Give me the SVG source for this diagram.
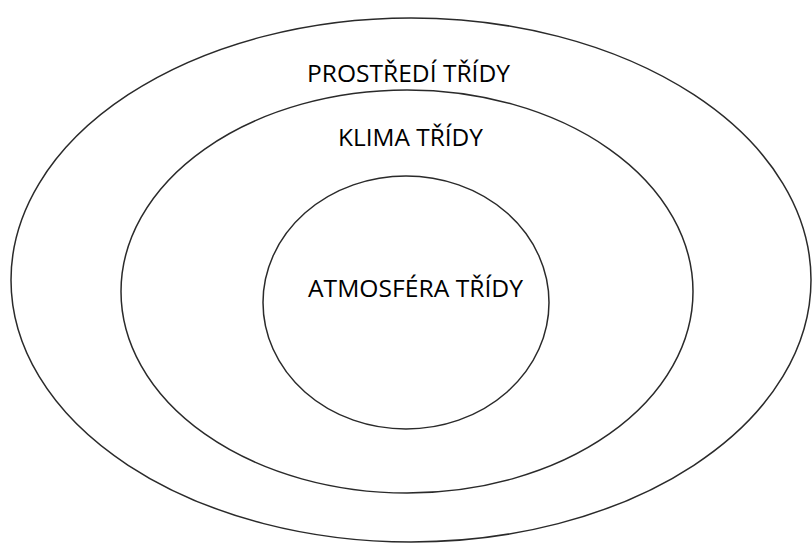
<svg xmlns="http://www.w3.org/2000/svg" width="812" height="543" viewBox="0 0 812 543">
<style>
.ring{fill:none;stroke:#2a2a2a;stroke-width:1.5}
.lbl{font-family:"Open Sans","Liberation Sans",sans-serif;font-size:23px;fill:#000;text-anchor:middle}
</style>
<rect width="812" height="543" fill="#fff"/>
<g id="outer">
<ellipse class="ring" cx="411" cy="280" rx="400" ry="262"/>
<text class="lbl" x="408.5" y="81.5" textLength="203" lengthAdjust="spacingAndGlyphs">PROSTŘEDÍ TŘÍDY</text>
</g>
<g id="middle">
<ellipse class="ring" cx="407" cy="291.5" rx="286" ry="201.5"/>
<text class="lbl" x="410.5" y="145.5" textLength="145" lengthAdjust="spacingAndGlyphs">KLIMA TŘÍDY</text>
</g>
<g id="inner">
<ellipse class="ring" cx="406" cy="302.5" rx="143" ry="126.5"/>
<text class="lbl" x="415.5" y="297" textLength="215" lengthAdjust="spacingAndGlyphs">ATMOSFÉRA TŘÍDY</text>
</g>
<g id="connectors"/>
</svg>
